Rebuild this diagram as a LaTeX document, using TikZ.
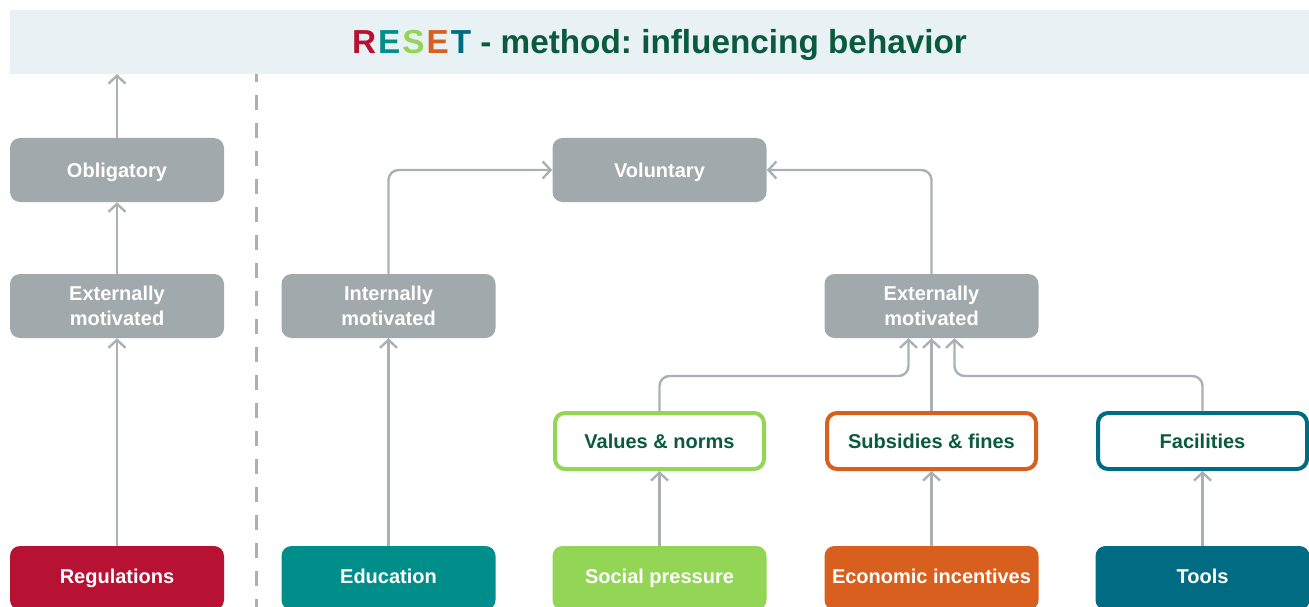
\documentclass[tikz,border=0pt]{standalone}
\usepackage{fontspec}
\setmainfont{Liberation Sans}
\frenchspacing
\usetikzlibrary{arrows.meta}
\definecolor{band}{HTML}{E8F2F4}
\definecolor{boxgray}{HTML}{A1A9AD}
\definecolor{linegray}{HTML}{A9B1B6}
\definecolor{dkgreen}{HTML}{0B5A40}
\definecolor{cred}{HTML}{B71234}
\definecolor{cteal}{HTML}{008E8B}
\definecolor{clime}{HTML}{93D656}
\definecolor{corange}{HTML}{D95F1E}
\definecolor{cblue}{HTML}{006C84}
\tikzset{
  boxbase/.style={rounded corners=10pt, minimum width=214pt, minimum height=64pt, inner sep=0pt,
    align=center, font=\bfseries\fontsize{20}{25}\selectfont},
  oneline/.style={text height=14.3pt, text depth=0pt},
  graybox/.style={boxbase, fill=boxgray, text=white},
  solidbox/.style={boxbase, text height=14.3pt, text depth=4pt, fill=#1, text=white},
  outbox/.style={boxbase, oneline, draw=#1, line width=4pt, fill=white, text=dkgreen,
    minimum width=209pt, minimum height=56pt},
  conn/.style={draw=linegray, line width=2.4pt, rounded corners=10pt,
    -{Straight Barb[length=8pt,width=17pt,line width=2.4pt]}},
}
\begin{document}
\begin{tikzpicture}[x=1pt,y=-1pt]
\useasboundingbox (0,0) rectangle (1309,607);
\clip (0,0) rectangle (1309,607);
\node[fill=band, minimum width=1299pt, minimum height=64pt, inner sep=0pt,
  text height=23.8pt, text depth=0pt,
  font=\bfseries\fontsize{33.3}{36}\selectfont, text=dkgreen] (title) at (659.5,42)
  {{\color{cred}R}\kern2pt{\color{cteal}E}\kern2pt{\color{clime}S}\kern2pt{\color{corange}E}\kern2pt{\color{cblue}T} - method: influencing behavior};
\coordinate (tbot) at (117,74);
\draw[linegray, line width=3pt, dash pattern=on 15pt off 13pt, dash phase=7pt] (256,74) -- (256,607);

% row 1
\node[graybox, oneline] (obl) at (117,170) {Obligatory};
\node[graybox, oneline] (vol) at (659.5,170) {Voluntary};
% row 2
\node[graybox] (eml) at (117,306) {Externally\\motivated};
\node[graybox] (im) at (388.5,306) {Internally\\motivated};
\node[graybox] (em) at (931.5,306) {Externally\\motivated};
% row 3
\node[outbox=clime] (vn) at (659.5,441) {Values \& norms};
\node[outbox=corange] (sf) at (931.5,441) {Subsidies \& fines};
\node[outbox=cblue] (fa) at (1202.5,441) {Facilities};
% row 4
\node[solidbox=cred] (reg) at (117,578) {Regulations};
\node[solidbox=cteal] (edu) at (388.5,578) {Education};
\node[solidbox=clime] (sp) at (659.5,578) {Social pressure};
\node[solidbox=corange] (ei) at (931.5,578) {Economic incentives};
\node[solidbox=cblue] (tl) at (1202.5,578) {Tools};

\coordinate (emL) at ([xshift=-23pt]em.south);
\coordinate (emR) at ([xshift=23pt]em.south);

\draw[conn] (obl.north) -- (tbot);
\draw[conn] (eml.north) -- (obl.south);
\draw[conn] (reg.north) -- (eml.south);
\draw[conn] (im.north) |- (vol.west);
\draw[conn] (em.north) |- (vol.east);
\draw[conn] (edu.north) -- (im.south);
\draw[conn] (vn.north) |- (emL |- 0,376) -- (emL);
\draw[conn] (sf.north) -- (em.south);
\draw[conn] (fa.north) |- (emR |- 0,376) -- (emR);
\draw[conn] (sp.north) -- (vn.south);
\draw[conn] (ei.north) -- (sf.south);
\draw[conn] (tl.north) -- (fa.south);
\end{tikzpicture}
\end{document}
